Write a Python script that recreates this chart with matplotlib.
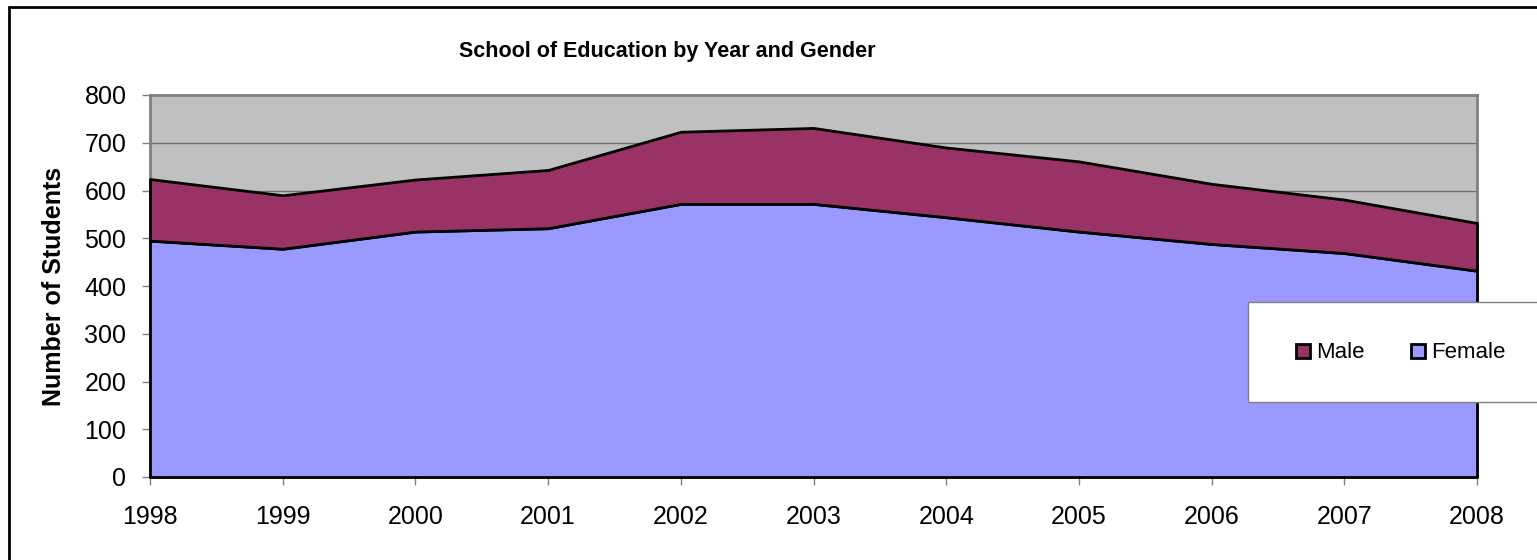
import numpy as np
import matplotlib
matplotlib.use('Agg')
import matplotlib.pyplot as plt
from matplotlib.patches import Rectangle
from matplotlib.lines import Line2D

plt.rcParams['font.family'] = ['Liberation Sans', 'DejaVu Sans']

years = [1998, 1999, 2000, 2001, 2002, 2003, 2004, 2005, 2006, 2007, 2008]
female = [495, 478, 514, 521, 572, 572, 544, 514, 488, 469, 432]
male = [129, 112, 109, 122, 151, 159, 146, 147, 126, 112, 100]
yticks = [0, 100, 200, 300, 400, 500, 600, 700, 800]

female_col = '#9999FF'
male_col = '#993366'

fig = plt.figure(figsize=(15.37, 5.6), dpi=100)
ax = fig.add_axes([150/1537, 1 - 477/560, (1477 - 150)/1537, (477 - 95)/560])

x = np.array(years)
f = np.array(female)
tot = f + np.array(male)

ax.set_facecolor('#C0C0C0')
ax.fill_between(x, 0, f, facecolor=female_col, edgecolor='black', lw=2, zorder=3, clip_on=False)
ax.fill_between(x, f, tot, facecolor=male_col, edgecolor='black', lw=2, zorder=3, clip_on=False)

ax.set_xlim(1998, 2008)
ax.set_ylim(0, 800)
ax.set_xticks(years)
ax.set_yticks(yticks)
ax.yaxis.grid(True, color='#707070', lw=1)
ax.set_axisbelow(True)
for s in ax.spines.values():
    s.set_color('#808080')
    s.set_linewidth(2)
ax.tick_params(axis='both', colors='#808080', labelcolor='black', labelsize=18,
               direction='out', length=6, width=1)
ax.tick_params(axis='x', pad=14)
ax.tick_params(axis='y', pad=11)

ax.set_ylabel('Number of Students', fontsize=18, fontweight='bold', labelpad=13)
fig.text(667/1537, 1 - 52/560, 'School of Education by Year and Gender',
         ha='center', va='center', fontsize=15.5, fontweight='bold')

# outer chart frame
fig.patches.append(Rectangle((9/1537, -0.1), 1.2, 1 - 7/560 + 0.1, transform=fig.transFigure,
                             fill=False, edgecolor='black', lw=2))

# legend box
fig.patches.append(Rectangle((1248/1537, 1 - 402/560), 0.3, 100/560, transform=fig.transFigure,
                             facecolor='white', edgecolor='#808080', lw=1, zorder=5))
handles = [Line2D([], [], ls='none', marker='s', markersize=10, markerfacecolor=male_col,
                  markeredgecolor='black', markeredgewidth=2),
           Line2D([], [], ls='none', marker='s', markersize=10, markerfacecolor=female_col,
                  markeredgecolor='black', markeredgewidth=2)]
leg = fig.legend(handles, ['Male', 'Female'], loc='center', bbox_to_anchor=(1401/1537, 1 - 353/560),
                 ncol=2, frameon=False, fontsize=16, handlelength=0.6, handletextpad=0.3,
                 columnspacing=2.1)
leg.set_zorder(6)

fig.savefig('out.png', dpi=100)
